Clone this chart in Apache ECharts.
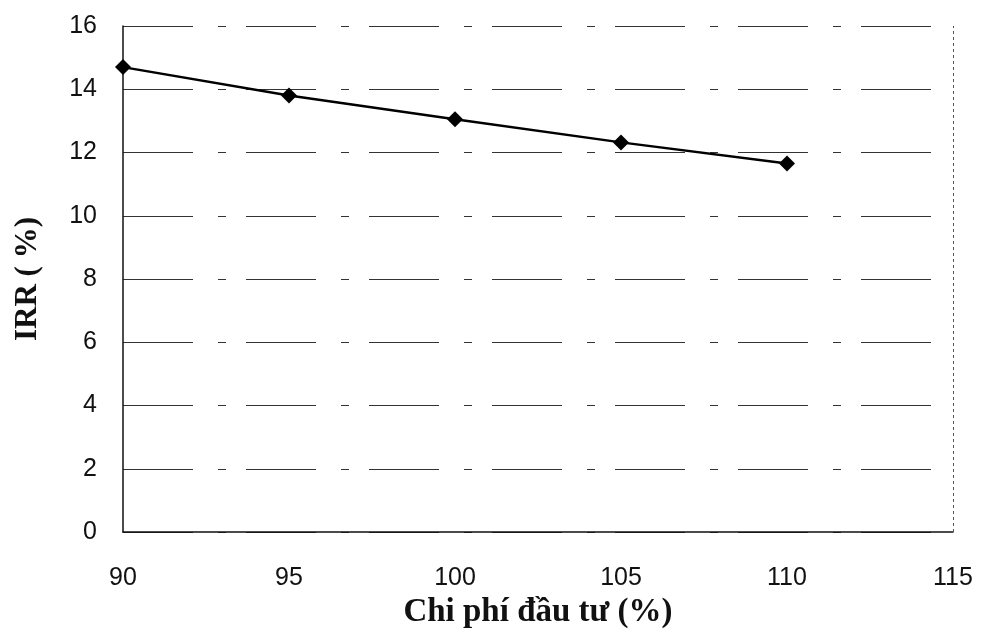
<!DOCTYPE html>
<html lang="vi">
<head>
    <meta charset="UTF-8">
    <title>IRR theo chi phí đầu tư</title>
    <script src="https://cdn.jsdelivr.net/npm/echarts@6/dist/echarts.min.js"></script>
    <style>
        html, body { margin: 0; padding: 0; background: #fff; }
        #chart { width: 983px; height: 642px; }
    </style>
</head>
<body>
    <div id="chart"></div>
    <script>
        // dữ liệu
        var chiPhi = [90, 95, 100, 105, 110];
        var irr = [14.7, 13.8, 13.05, 12.32, 11.65];

        var pts = chiPhi.map(function (x, i) { return [x, irr[i]]; });

        var myChart = echarts.init(document.getElementById('chart'));
        var option = {
            animation: false,
            grid: { left: 123, right: 30, top: 26, bottom: 110, containLabel: false, outerBoundsMode: 'none' },
            xAxis: {
                type: 'value',
                min: 90, max: 115, interval: 5,
                name: 'Chi phí đầu tư (%)',
                nameLocation: 'middle',
                nameGap: 54,
                nameTextStyle: { fontFamily: 'Liberation Serif', fontWeight: 'bold', fontSize: 33, color: '#111' },
                axisLine: { show: true, lineStyle: { color: '#111', width: 1.5 } },
                axisTick: { show: false },
                axisLabel: { fontFamily: 'Liberation Sans', fontSize: 25, color: '#111', margin: 34 },
                splitLine: { show: false }
            },
            yAxis: {
                type: 'value',
                min: 0, max: 16, interval: 2,
                name: 'IRR ( %)',
                nameLocation: 'middle',
                nameGap: 80,
                nameTextStyle: { fontFamily: 'Liberation Serif', fontWeight: 'bold', fontSize: 31, color: '#111' },
                axisLine: { show: true, lineStyle: { color: '#111', width: 1.5 } },
                axisTick: { show: false },
                axisLabel: { fontFamily: 'Liberation Sans', fontSize: 25, color: '#111', margin: 26 },
                splitLine: { show: true, lineStyle: { color: '#333', width: 1, type: [70, 25, 8, 20] } }
            },
            series: [{
                type: 'line',
                data: pts,
                symbol: 'diamond',
                symbolSize: 16,
                lineStyle: { color: '#000', width: 2.5 },
                itemStyle: { color: '#000' }
            }, {
                // khung phải
                type: 'line',
                data: [],
                markLine: {
                    silent: true,
                    symbol: 'none',
                    label: { show: false },
                    lineStyle: { color: '#555', width: 1, type: [3, 3] },
                    data: [{ xAxis: 115 }]
                }
            }]
        };
        myChart.setOption(option);
    </script>
</body>
</html>
